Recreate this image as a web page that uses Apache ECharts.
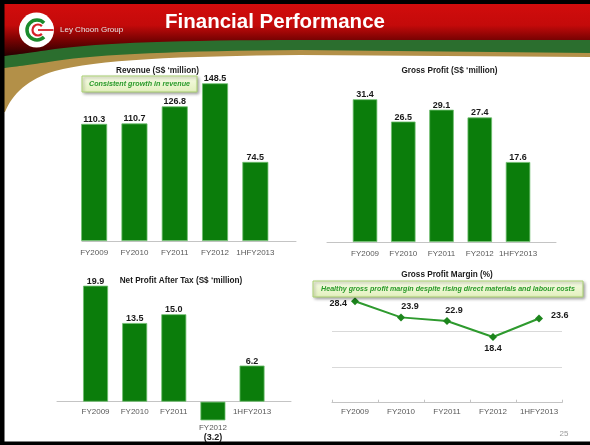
<!DOCTYPE html>
<html><head><meta charset="utf-8">
<script src="https://cdn.jsdelivr.net/npm/echarts@6/dist/echarts.min.js"></script>
<style>html,body{margin:0;padding:0;background:#fff}#c{width:590px;height:445px}</style>
</head><body><div id="c"></div>
<script>
// ---- data ----
const categories = ['FY2009', 'FY2010', 'FY2011', 'FY2012', '1HFY2013'];
const revenue = [110.3, 110.7, 126.8, 148.5, 74.5];
const grossProfit = [31.4, 26.5, 29.1, 27.4, 17.6];
const netProfit = [19.9, 13.5, 15.0, -3.2, 6.2];
const grossMargin = [28.4, 23.9, 22.9, 18.4, 23.6];
const marginTicks = [0, 10, 20, 30];

// ---- styles ----
const FONT = '"Liberation Sans", Arial, sans-serif';
const BAR = '#0b7d0b';
const AX = '#c4c4c4';
const CAT = { fontSize: 8, color: '#595959', fontFamily: FONT };
const VAL = { fontSize: 9, fontWeight: 'bold', color: '#1a1a1a', fontFamily: FONT };
const marginLabelPos = [
  { position: 'left', distance: 4, offset: [0, 2] },
  { position: 'top', distance: 2, offset: [9, 0] },
  { position: 'top', distance: 2, offset: [7, 0] },
  { position: 'bottom', distance: 3, offset: [0, 0] },
  { position: 'right', distance: 8, offset: [0, -3] }
];

const chart = echarts.init(document.getElementById('c'), null, { renderer: 'canvas' });

function catAxis(grid, margin, fmt, showLabel) {
  const ax = {
    type: 'category', gridIndex: grid, data: categories,
    axisLine: { show: false },
    axisTick: { show: false }, splitLine: { show: false },
    axisLabel: Object.assign({ show: showLabel !== false, margin: margin, interval: 0 }, CAT)
  };
  if (fmt) ax.axisLabel.formatter = fmt;
  return ax;
}
function lineAxis(grid) {
  return {
    type: 'value', gridIndex: grid, min: 0, max: 1,
    axisLine: { show: true, lineStyle: { color: AX, width: 1 } },
    axisTick: { show: false }, axisLabel: { show: false }, splitLine: { show: false }
  };
}
function hiddenY(grid, min, max) {
  return { type: 'value', gridIndex: grid, min: min, max: max, show: false, splitLine: { show: false } };
}
function barSeries(x, y, data, width) {
  return {
    type: 'bar', xAxisIndex: x, yAxisIndex: y, data: data, barWidth: width,
    itemStyle: { color: BAR, borderColor: '#6fbf6f', borderWidth: 0.8 },
    label: Object.assign({ show: true, position: 'top', distance: 0,
      formatter: p => Number(p.value).toFixed(1) }, VAL)
  };
}

const npData = netProfit.map(v => v < 0 ? {
  value: v,
  label: {
    position: 'bottom', distance: 2,
    formatter: p => '{n|' + p.name + '}\n{v|(' + Math.abs(p.value).toFixed(1) + ')}',
    rich: {
      n: { fontSize: 8, fontWeight: 'normal', color: '#595959', fontFamily: FONT, lineHeight: 10 },
      v: { fontSize: 9, fontWeight: 'bold', color: '#1a1a1a', fontFamily: FONT, lineHeight: 10 }
    }
  }
} : v);

const marginData = grossMargin.map((v, i) => ({
  value: v,
  label: Object.assign({ show: true }, marginLabelPos[i])
}));

// decoration helpers
function bez(p0, p1, p2, p3, n) {
  const out = [];
  for (let i = 0; i <= n; i++) {
    const t = i / n, u = 1 - t;
    out.push([
      u*u*u*p0[0] + 3*u*u*t*p1[0] + 3*u*t*t*p2[0] + t*t*t*p3[0],
      u*u*u*p0[1] + 3*u*u*t*p1[1] + 3*u*t*t*p2[1] + t*t*t*p3[1]
    ]);
  }
  return out;
}
function bezN(a, b, c, d) { return bez(a, b, c, d, 16); }

const goldPts = [[0,0],[590,0],[590,57],[300,55]]
  .concat(bezN([300,55],[180,56],[95,60],[55,71]).slice(1))
  .concat(bezN([55,71],[28,79],[12,94],[5,112]).slice(1))
  .concat([[0,112]]);
const greenPts = [[0,0],[590,0],[590,53],[300,50]]
  .concat(bezN([300,50],[180,51],[100,54],[55,61]).slice(1))
  .concat(bezN([55,61],[28,65],[12,67],[5,68]).slice(1))
  .concat([[0,68]]);
const redPts = [[0,0],[590,0],[590,40],[300,40]]
  .concat(bezN([300,40],[180,40],[100,43],[55,49]).slice(1))
  .concat(bezN([55,49],[28,53],[12,55],[5,56]).slice(1))
  .concat([[0,56]]);

function txt(x, y, text, font, fill, align) {
  return { type: 'text', x: x, y: y, z: 120,
    style: { text: text, font: font, fill: fill, textAlign: align || 'center', textVerticalAlign: 'middle' } };
}
function noteBox(x, y, w, h, text, size) {
  return [
    { type: 'rect', z: 110, shape: { x: x, y: y, width: w, height: h },
      style: {
        fill: new echarts.graphic.LinearGradient(0, 0, 0, 1,
          [{ offset: 0, color: '#f7fbe6' }, { offset: 1, color: '#e2f0bc' }]),
        stroke: '#a9d070', lineWidth: 1,
        shadowBlur: 3, shadowOffsetX: 1.5, shadowOffsetY: 1.5, shadowColor: 'rgba(0,0,0,0.35)'
      } },
    txt(x + w / 2, y + h / 2 + 0.5, text, 'italic bold ' + size + 'px ' + FONT, '#2a9a2a')
  ];
}

const graphics = [
  { type: 'polygon', z: 1, shape: { points: goldPts }, style: { fill: '#b39048' } },
  { type: 'polygon', z: 2, shape: { points: greenPts }, style: { fill: '#2b6e2e' } },
  { type: 'polygon', z: 3, shape: { points: redPts },
    style: { fill: new echarts.graphic.LinearGradient(0, 0, 0, 1,
      [{ offset: 0, color: '#d40d0d' }, { offset: 0.45, color: '#c40a0a' },
       { offset: 0.72, color: '#760202' }, { offset: 1, color: '#260000' }]) } },
  // logo
  { type: 'circle', z: 4, shape: { cx: 36.5, cy: 30, r: 17.5 }, style: { fill: '#ffffff' } },
  { type: 'arc', z: 5, shape: { cx: 37, cy: 30, r: 10, startAngle: Math.PI / 4, endAngle: Math.PI * 7 / 4, clockwise: true },
    style: { fill: null, stroke: '#1c8a2c', lineWidth: 3.5 } },
  { type: 'arc', z: 5, shape: { cx: 38, cy: 30, r: 5.5, startAngle: Math.PI / 4, endAngle: Math.PI * 7 / 4, clockwise: true },
    style: { fill: null, stroke: '#d6202a', lineWidth: 2.2 } },
  { type: 'line', z: 5, shape: { x1: 38, y1: 30, x2: 53.5, y2: 30 }, style: { stroke: '#d6202a', lineWidth: 1.8 } },
  txt(60, 30, 'Ley Choon Group', '8px ' + FONT, '#e6e6e6', 'left'),
  txt(275, 22.5, 'Financial Performance', 'bold 20.5px ' + FONT, '#ffffff'),
  txt(157.5, 71, 'Revenue (S$ \u2018million)', 'bold 8.2px ' + FONT, '#1a1a1a'),
  txt(449.5, 70.5, 'Gross Profit (S$ \u2018million)', 'bold 8.2px ' + FONT, '#1a1a1a'),
  txt(181, 280.5, 'Net Profit After Tax (S$ \u2018million)', 'bold 8.2px ' + FONT, '#1a1a1a'),
  txt(447, 275, 'Gross Profit Margin (%)', 'bold 8.2px ' + FONT, '#1a1a1a'),
  ...noteBox(82, 76, 115, 16, 'Consistent growth in revenue', 7.2),
  ...noteBox(313, 281, 270, 16, 'Healthy gross profit margin despite rising direct materials and labour costs', 7.1),
  txt(564, 434, '25', '8px ' + FONT, '#9a9a9a'),
  { type: 'rect', z: 130, shape: { x: 0, y: 0, width: 590, height: 4 }, style: { fill: '#000' } },
  { type: 'rect', z: 130, shape: { x: 0, y: 0, width: 4.5, height: 445 }, style: { fill: '#000' } },
  { type: 'rect', z: 130, shape: { x: 0, y: 441.5, width: 590, height: 3.5 }, style: { fill: '#000' } }
];

const option = {
  backgroundColor: '#ffffff',
  animation: false,
  textStyle: { fontFamily: FONT },
  grid: [
    { left: 74, top: 71.1, width: 201.5, height: 169.9 },      // 0 revenue
    { left: 345.9, top: 82.9, width: 191.25, height: 159.1 },  // 1 gross profit
    { left: 76, top: 285.1, width: 195.6, height: 145.75 },    // 2 net profit
    { left: 332, top: 295.6, width: 230, height: 107.1 },      // 3 margin
    { left: 82, top: 240, width: 214, height: 1 },             // 4 axis line revenue
    { left: 327, top: 241, width: 229, height: 1 },            // 5 axis line GP
    { left: 57, top: 400.7, width: 234, height: 1 },           // 6 axis line NPAT
    { left: 76, top: 400.7, width: 195.6, height: 1 }          // 7 NPAT category labels at zero
  ],
  xAxis: [
    catAxis(0, 8),
    catAxis(1, 8),
    catAxis(2, 6, null, false),
    {
      type: 'category', gridIndex: 3, data: categories, boundaryGap: true,
      axisLine: { show: true, lineStyle: { color: AX } },
      axisTick: { show: true, inside: true, length: 3, lineStyle: { color: AX } },
      axisLabel: Object.assign({ margin: 5, interval: 0 }, CAT)
    },
    lineAxis(4), lineAxis(5), lineAxis(6),
    catAxis(7, 6, (v, i) => netProfit[i] < 0 ? '' : v)
  ],
  yAxis: [
    hiddenY(0, 0, 160),
    hiddenY(1, 0, 35),
    hiddenY(2, -5, 20),
    {
      type: 'value', gridIndex: 3, min: marginTicks[0], max: marginTicks[marginTicks.length - 1], interval: 10,
      axisLine: { show: false }, axisTick: { show: false }, axisLabel: { show: false },
      splitLine: { show: true, lineStyle: { color: '#d9d9d9', width: 1 } }
    },
    hiddenY(4, 0, 1), hiddenY(5, 0, 1), hiddenY(6, 0, 1), hiddenY(7, 0, 1)
  ],
  series: [
    barSeries(0, 0, revenue, 26),
    barSeries(1, 1, grossProfit, 24.5),
    barSeries(2, 2, npData, 25),
    {
      type: 'line', xAxisIndex: 3, yAxisIndex: 3, data: marginData,
      lineStyle: { color: '#2e9a2e', width: 2 },
      symbol: 'diamond', symbolSize: 8,
      itemStyle: { color: '#1d851d' },
      label: Object.assign({ show: true, formatter: p => Number(p.value).toFixed(1) }, VAL)
    }
  ],
  graphic: { elements: graphics }
};
chart.setOption(option);
</script>
</body></html>
